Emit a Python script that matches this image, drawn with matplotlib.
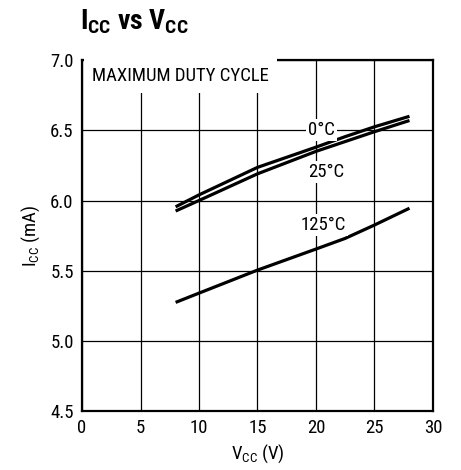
import matplotlib
matplotlib.use("Agg")
import matplotlib.pyplot as plt
from matplotlib import font_manager

names = {f.name for f in font_manager.fontManager.ttflist}
FONT = "Liberation Sans"
for cand in ["Roboto Condensed", "Archivo Narrow", "Liberation Sans Narrow", "Barlow Semi Condensed"]:
    if cand in names:
        FONT = cand
        break
plt.rcParams['font.family'] = [FONT, 'DejaVu Sans']
plt.rcParams['mathtext.fontset'] = 'custom'
plt.rcParams['mathtext.rm'] = FONT
plt.rcParams['mathtext.bf'] = FONT + ":bold"

# data
vcc = [8, 10, 15, 20, 22.5, 25, 28]
icc_0c = [5.955, 6.04, 6.236, 6.38, 6.455, 6.525, 6.60]
icc_25c = [5.925, 6.00, 6.19, 6.35, 6.42, 6.49, 6.57]
icc_125c = [5.274, 5.34, 5.504, 5.654, 5.73, 5.825, 5.945]
xticks = [0, 5, 10, 15, 20, 25, 30]
yticks = [4.5, 5.0, 5.5, 6.0, 6.5, 7.0]

fig = plt.figure(figsize=(4.61, 4.70), dpi=100)
ax = fig.add_axes([0.178, 0.1255, 0.761, 0.7465])
ax.set_xlim(0, 30)
ax.set_ylim(4.5, 7.0)
ax.set_xticks(xticks)
ax.set_yticks(yticks)
ax.set_xticklabels([str(t) for t in xticks])
ax.set_yticklabels([f"{t:.1f}" for t in yticks])
ax.tick_params(length=0, labelsize=13.5, pad=6)
ax.grid(True, color='black', linewidth=0.9)
ax.set_axisbelow(True)
for s in ax.spines.values():
    s.set_linewidth(1.6)

for y in (icc_0c, icc_25c, icc_125c):
    ax.plot(vcc, y, color='black', linewidth=2.3, solid_capstyle='butt', zorder=3)

bb = dict(facecolor='white', edgecolor='none', pad=1.5)
ax.text(0.85, 6.89, "MAXIMUM DUTY CYCLE", fontsize=13.5, va='center', ha='left', bbox=dict(facecolor='white', edgecolor='none', pad=6), zorder=4)
ax.text(20.5, 6.5, "0°C", fontsize=13.5, va='center', ha='center', bbox=bb, zorder=4)
ax.text(20.9, 6.20, "25°C", fontsize=13.5, va='center', ha='center', bbox=bb, zorder=4)
ax.text(20.6, 5.825, "125°C", fontsize=13.5, va='center', ha='center', bbox=bb, zorder=4)

ax.set_xlabel("V$_{\\mathregular{CC}}$ (V)", fontsize=13.5, labelpad=4)
ax.set_ylabel("I$_{\\mathregular{CC}}$ (mA)", fontsize=13.5, labelpad=6)

fig.text(0.174, 0.955, "I$_{\\mathbf{CC}}$ vs V$_{\\mathbf{CC}}$", fontsize=20, fontweight='bold', ha='left', va='center')

fig.savefig("out.png", dpi=100)
